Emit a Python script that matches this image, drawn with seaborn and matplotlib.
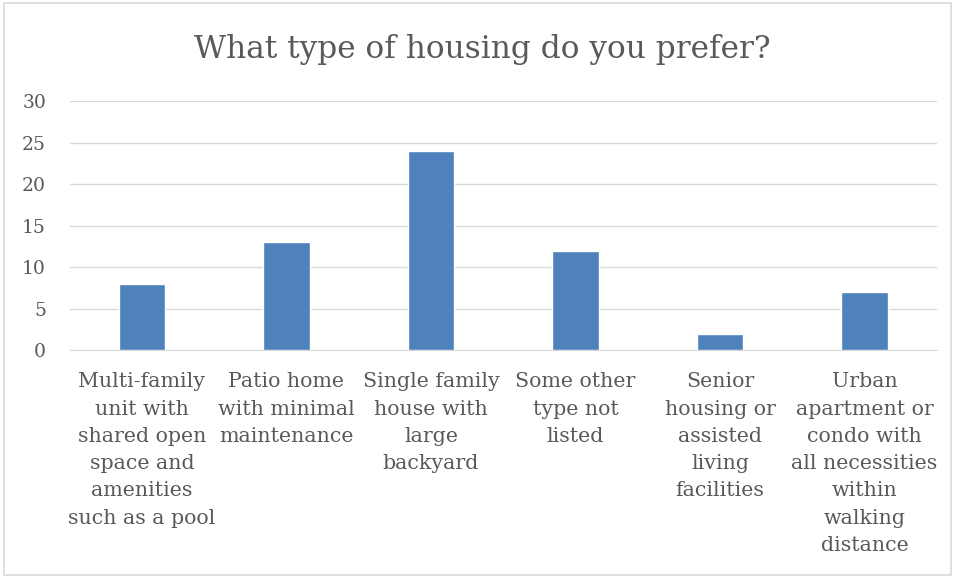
import matplotlib
matplotlib.use('Agg')
import matplotlib.pyplot as plt
import matplotlib.patches as mpatches
import pandas as pd
import seaborn as sns

categories = [
    'Multi-family\nunit with\nshared open\nspace and\namenities\nsuch as a pool',
    'Patio home\nwith minimal\nmaintenance',
    'Single family\nhouse with\nlarge\nbackyard',
    'Some other\ntype not\nlisted',
    'Senior\nhousing or\nassisted\nliving\nfacilities',
    'Urban\napartment or\ncondo with\nall necessities\nwithin\nwalking\ndistance',
]
counts = [8, 13, 24, 12, 2, 7]
y_ticks = [0, 5, 10, 15, 20, 25, 30]

df = pd.DataFrame({'type': categories, 'count': counts})

sns.set_style('white')
plt.rcParams['font.family'] = ['DejaVu Serif']
text_col = '#595959'

fig = plt.figure(figsize=(9.55, 5.77), dpi=100)
ax = fig.add_axes([0.073, 0.393, 0.908, 0.432])

sns.barplot(data=df, x='type', y='count', color='#4F81BD', saturation=1,
            width=0.32, ax=ax, zorder=3)

ax.set_ylim(0, 30)
ax.set_yticks(y_ticks)
ax.grid(axis='y', color='#D9D9D9', linewidth=1, zorder=0)
ax.set_xlabel('')
ax.set_ylabel('')
for s in ['top', 'right', 'left']:
    ax.spines[s].set_visible(False)
ax.spines['bottom'].set_color('#D9D9D9')
ax.tick_params(axis='both', length=0, colors=text_col)
ax.tick_params(axis='y', pad=17, labelsize=13.5)
ax.tick_params(axis='x', pad=16, labelsize=14.8)
for lbl in ax.get_xticklabels():
    lbl.set_horizontalalignment('center')
    lbl.set_linespacing(1.55)
for lbl in ax.get_yticklabels():
    lbl.set_horizontalalignment('right')

fig.text(0.505, 0.915, 'What type of housing do you prefer?', ha='center', va='center',
         fontsize=22.5, color=text_col)

fig.patches.append(mpatches.Rectangle((0.004, 0.004), 0.992, 0.99, transform=fig.transFigure,
                                      fill=False, edgecolor='#D9D9D9', linewidth=1.2))

fig.savefig('out.png', dpi=100)
